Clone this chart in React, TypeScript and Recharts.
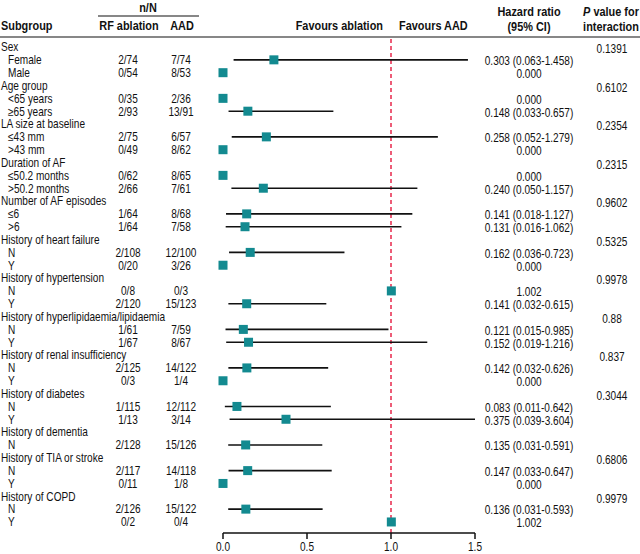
import React from 'react';
import { ScatterChart, Scatter, XAxis, YAxis, ErrorBar, ReferenceLine } from 'recharts';

const subgroups = [
  'Sex', 'Female', 'Male',
  'Age group', '<65 years', '≥65 years',
  'LA size at baseline', '≤43 mm', '>43 mm',
  'Duration of AF', '≤50.2 months', '>50.2 months',
  'Number of AF episodes', '≤6', '>6',
  'History of heart failure', 'N', 'Y',
  'History of hypertension', 'N', 'Y',
  'History of hyperlipidaemia/lipidaemia', 'N', 'Y',
  'History of renal insufficiency', 'N', 'Y',
  'History of diabetes', 'N', 'Y',
  'History of dementia', 'N',
  'History of TIA or stroke', 'N', 'Y',
  'History of COPD', 'N', 'Y',
];

// 0 = group heading, 1 = subgroup
const levels = [
  0, 1, 1, 0, 1, 1, 0, 1, 1, 0, 1, 1, 0, 1, 1, 0, 1, 1, 0, 1, 1,
  0, 1, 1, 0, 1, 1, 0, 1, 1, 0, 1, 0, 1, 1, 0, 1, 1,
];

const rfAblation = [
  '', '2/74', '0/54', '', '0/35', '2/93', '', '2/75', '0/49', '', '0/62', '2/66',
  '', '1/64', '1/64', '', '2/108', '0/20', '', '0/8', '2/120', '', '1/61', '1/67',
  '', '2/125', '0/3', '', '1/115', '1/13', '', '2/128', '', '2/117', '0/11', '', '2/126', '0/2',
];

const aadCounts = [
  '', '7/74', '8/53', '', '2/36', '13/91', '', '6/57', '8/62', '', '8/65', '7/61',
  '', '8/68', '7/58', '', '12/100', '3/26', '', '0/3', '15/123', '', '7/59', '8/67',
  '', '14/122', '1/4', '', '12/112', '3/14', '', '15/126', '', '14/118', '1/8', '', '15/122', '0/4',
];

const hazardRatio: (number | null)[] = [
  null, 0.303, 0.0, null, 0.0, 0.148, null, 0.258, 0.0, null, 0.0, 0.24,
  null, 0.141, 0.131, null, 0.162, 0.0, null, 1.002, 0.141, null, 0.121, 0.152,
  null, 0.142, 0.0, null, 0.083, 0.375, null, 0.135, null, 0.147, 0.0, null, 0.136, 1.002,
];

const ciLower: (number | null)[] = [
  null, 0.063, null, null, null, 0.033, null, 0.052, null, null, null, 0.05,
  null, 0.018, 0.016, null, 0.036, null, null, null, 0.032, null, 0.015, 0.019,
  null, 0.032, null, null, 0.011, 0.039, null, 0.031, null, 0.033, null, null, 0.031, null,
];

const ciUpper: (number | null)[] = [
  null, 1.458, null, null, null, 0.657, null, 1.279, null, null, null, 1.157,
  null, 1.127, 1.062, null, 0.723, null, null, null, 0.615, null, 0.985, 1.216,
  null, 0.626, null, null, 0.642, 3.604, null, 0.591, null, 0.647, null, null, 0.593, null,
];

const hrLabels = [
  '', '0.303 (0.063-1.458)', '0.000', '', '0.000', '0.148 (0.033-0.657)',
  '', '0.258 (0.052-1.279)', '0.000', '', '0.000', '0.240 (0.050-1.157)',
  '', '0.141 (0.018-1.127)', '0.131 (0.016-1.062)', '', '0.162 (0.036-0.723)', '0.000',
  '', '1.002', '0.141 (0.032-0.615)', '', '0.121 (0.015-0.985)', '0.152 (0.019-1.216)',
  '', '0.142 (0.032-0.626)', '0.000', '', '0.083 (0.011-0.642)', '0.375 (0.039-3.604)',
  '', '0.135 (0.031-0.591)', '', '0.147 (0.033-0.647)', '0.000', '', '0.136 (0.031-0.593)', '1.002',
];

const pValues = [
  '0.1391', '', '', '0.6102', '', '', '0.2354', '', '', '0.2315', '', '',
  '0.9602', '', '', '0.5325', '', '', '0.9978', '', '', '0.88', '', '',
  '0.837', '', '', '0.3044', '', '', '', '', '0.6806', '', '', '0.9979', '', '',
];

const xTicks = [0, 0.5, 1, 1.5];
const X_MAX = 1.5;
const rowTicks = subgroups.map((_, i) => i);
const rowDomain = [-0.78, 37.86];

const FONT = '"Liberation Sans", Arial, sans-serif';
const SQUEEZE = 0.84; // narrow sans look
const TEAL = '#138a90';
const RED = '#e8274b';

const points = hazardRatio
  .map((hr, i) => {
    if (hr === null) return null;
    const lo = ciLower[i];
    const hi = ciUpper[i];
    const err = lo !== null && hi !== null ? [hr - lo, Math.min(hi, X_MAX) - hr] : [0, 0];
    return { row: i, hr, err };
  })
  .filter(Boolean);

// condensed text: Liberation Sans squeezed horizontally
const T = ({ x, y, anchor = 'start', bold = false, size = 12, children }: any) => (
  <text
    transform={`translate(${x} ${y}) scale(${SQUEEZE} 1)`}
    textAnchor={anchor}
    dominantBaseline="central"
    fontFamily={FONT}
    fontSize={size}
    fontWeight={bold ? 700 : 400}
    fill="#111"
  >
    {children}
  </text>
);

const RowTick = ({ y, payload }: any) => {
  const i = payload.value;
  const sub = levels[i] === 1;
  return (
    <g>
      <T x={sub ? 8 : 1} y={y}>{subgroups[i]}</T>
      {rfAblation[i] && <T x={128} y={y} anchor="middle">{rfAblation[i]}</T>}
      {aadCounts[i] && <T x={181} y={y} anchor="middle">{aadCounts[i]}</T>}
      {hrLabels[i] && <T x={529} y={y + 1} anchor="middle">{hrLabels[i]}</T>}
      {pValues[i] && <T x={612} y={y + 2} anchor="middle">{pValues[i]}</T>}
    </g>
  );
};

const XTick = ({ x, y, payload }: any) => (
  <g>
    <line x1={x} x2={x} y1={y} y2={y + 6} stroke="#111" strokeWidth={1.5} />
    <T x={x} y={y + 14} anchor="middle" size={12}>{payload.value.toFixed(1)}</T>
  </g>
);

const Square = ({ cx, cy }: any) => (
  <rect x={cx - 4.5} y={cy - 4.5} width={9} height={9} fill={TEAL} />
);

export default function App() {
  return (
    <div style={{ position: 'absolute', left: 0, top: 0, width: 640, height: 554, background: '#fff' }}>
      <ScatterChart width={640} height={554} margin={{ top: 37, right: 165, bottom: 0, left: 0 }}>
        <XAxis
          type="number"
          dataKey="hr"
          domain={[0, X_MAX]}
          ticks={xTicks}
          height={21}
          tickSize={0}
          tickMargin={0}
          tickLine={false}
          axisLine={{ stroke: '#111', strokeWidth: 1.5 }}
          tick={<XTick />}
        />
        <YAxis
          type="number"
          dataKey="row"
          domain={rowDomain}
          reversed
          ticks={rowTicks}
          interval={0}
          width={223}
          axisLine={false}
          tickLine={false}
          tick={<RowTick />}
        />
        <ReferenceLine x={1} stroke={RED} strokeWidth={1.5} strokeDasharray="4 3" />
        <Scatter data={points} dataKey="hr" shape={<Square />} isAnimationActive={false}>
          <ErrorBar dataKey="err" direction="x" width={0} stroke="#111" strokeWidth={1.6} />
        </Scatter>
        <g>
          <T x={148} y={8} anchor="middle" bold size={13}>n/N</T>
          <line x1={98} x2={199} y1={16} y2={16} stroke="#111" strokeWidth={1.2} />
          <T x={1} y={26} bold size={13}>Subgroup</T>
          <T x={129} y={26} anchor="middle" bold size={13}>RF ablation</T>
          <T x={182} y={26} anchor="middle" bold size={13}>AAD</T>
          <T x={383} y={26} anchor="end" bold size={13}>Favours ablation</T>
          <T x={399} y={26} bold size={13}>Favours AAD</T>
          <T x={529} y={12} anchor="middle" bold size={13}>Hazard ratio</T>
          <T x={529} y={27} anchor="middle" bold size={13}>(95% CI)</T>
          <T x={611} y={12} anchor="middle" bold size={13}>
            <tspan fontStyle="italic">P</tspan> value for
          </T>
          <T x={611} y={27} anchor="middle" bold size={13}>interaction</T>
          <line x1={0} x2={640} y1={37} y2={37} stroke="#111" strokeWidth={1.2} />
        </g>
      </ScatterChart>
    </div>
  );
}
